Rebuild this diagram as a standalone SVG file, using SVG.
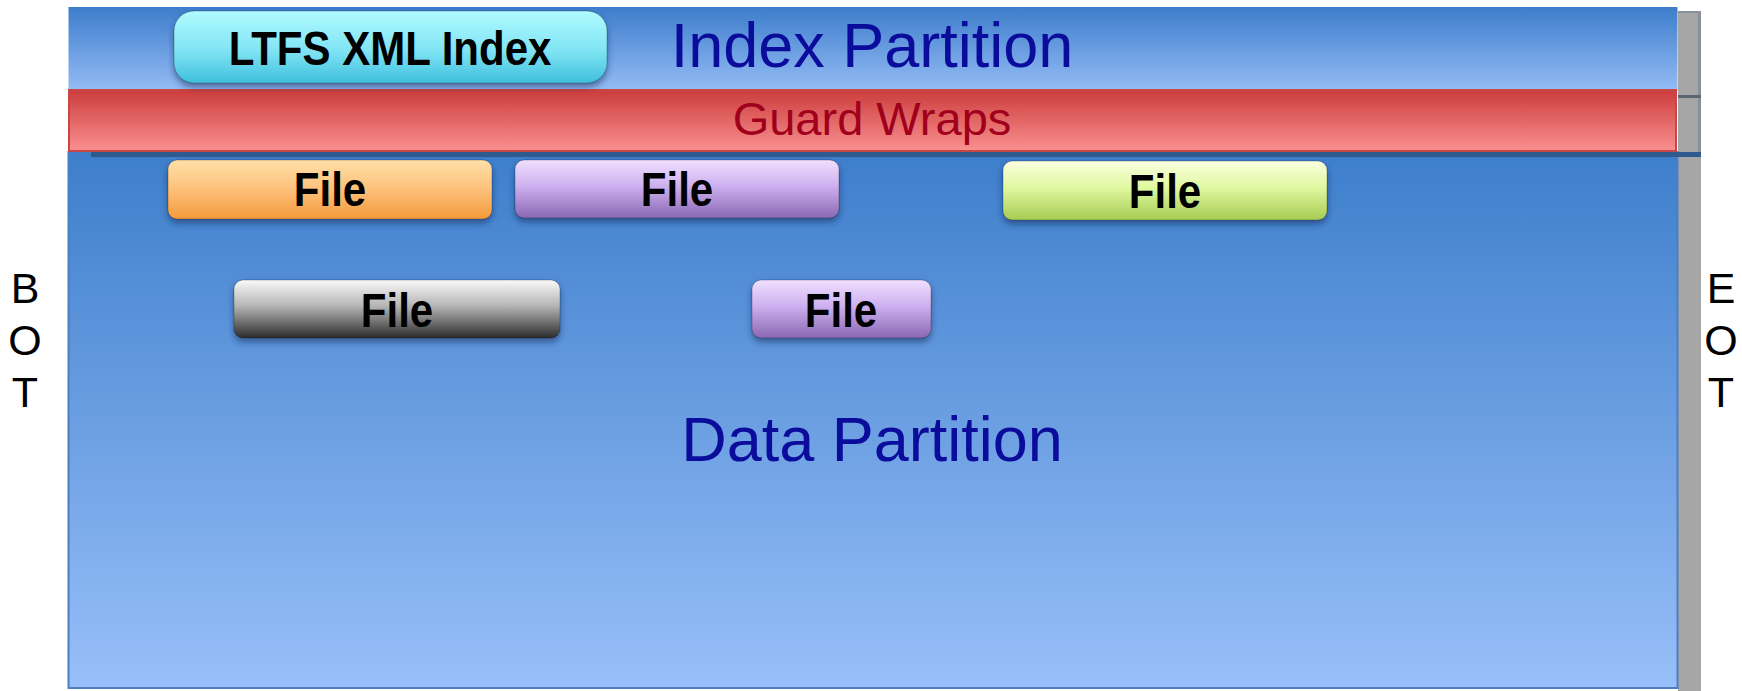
<svg xmlns="http://www.w3.org/2000/svg" width="1742" height="691" viewBox="0 0 1742 691">
  <defs>
    <linearGradient id="gIndex" x1="0" y1="0" x2="0" y2="1">
      <stop offset="0" stop-color="#3d7dcb"/>
      <stop offset="1" stop-color="#95bcf6"/>
    </linearGradient>
    <linearGradient id="gData" x1="0" y1="0" x2="0" y2="1">
      <stop offset="0" stop-color="#3d7ecb"/>
      <stop offset="1" stop-color="#98bff9"/>
    </linearGradient>
    <linearGradient id="gGuard" x1="0" y1="0" x2="0" y2="1">
      <stop offset="0" stop-color="#cc3c3c"/>
      <stop offset="1" stop-color="#fa9090"/>
    </linearGradient>
    <linearGradient id="gCyan" x1="0" y1="0" x2="0" y2="1">
      <stop offset="0" stop-color="#b0fbff"/>
      <stop offset="0.55" stop-color="#80e4f4"/>
      <stop offset="1" stop-color="#3fbfde"/>
    </linearGradient>
    <linearGradient id="gOrange" x1="0" y1="0" x2="0" y2="1">
      <stop offset="0" stop-color="#ffe0a8"/>
      <stop offset="0.5" stop-color="#fdc07a"/>
      <stop offset="1" stop-color="#f59a3c"/>
    </linearGradient>
    <linearGradient id="gPurple" x1="0" y1="0" x2="0" y2="1">
      <stop offset="0" stop-color="#f0e0ff"/>
      <stop offset="0.45" stop-color="#cdb0ef"/>
      <stop offset="1" stop-color="#8a68b4"/>
    </linearGradient>
    <linearGradient id="gGreen" x1="0" y1="0" x2="0" y2="1">
      <stop offset="0" stop-color="#fbffe0"/>
      <stop offset="0.45" stop-color="#e0f8a0"/>
      <stop offset="1" stop-color="#a6cc52"/>
    </linearGradient>
    <linearGradient id="gGray" x1="0" y1="0" x2="0" y2="1">
      <stop offset="0" stop-color="#fafafa"/>
      <stop offset="0.45" stop-color="#b4b4b4"/>
      <stop offset="1" stop-color="#2c2c2c"/>
    </linearGradient>
    <filter id="shadow" x="-10%" y="-30%" width="120%" height="170%">
      <feDropShadow dx="0" dy="4" stdDeviation="3" flood-color="#0a2a55" flood-opacity="0.55"/>
    </filter>
  </defs>
  <style>
    .part { font-family: "Liberation Sans", Arial, sans-serif; font-size: 63px; fill: #0c0c9c; text-anchor: middle; }
    .guard { font-family: "Liberation Sans", Arial, sans-serif; font-size: 47px; fill: #a0001c; text-anchor: middle; }
    .edge { font-family: "Liberation Sans", Arial, sans-serif; font-size: 43px; fill: #000000; text-anchor: middle; }
    .lbl { font-family: "Liberation Sans", Arial, sans-serif; font-weight: bold; font-size: 42px; fill: #000000; text-anchor: middle; }
    .box { stroke: rgba(0,0,0,0.25); stroke-width: 1; filter: url(#shadow); }
  </style>

  <rect width="1742" height="691" fill="#ffffff"/>

  <!-- tape body -->
  <g id="tape">
    <!-- gray end-of-tape strip -->
    <rect x="1678" y="11" width="23" height="680" fill="#a6a6a6"/>
    <rect x="1698" y="11" width="3" height="141" fill="#8a9099"/>
    <rect x="1678" y="11" width="23" height="2" fill="#8a9099"/>
    <rect x="1678" y="95" width="23" height="3" fill="#5c6670"/>
    <!-- data partition -->
    <rect id="data-partition" x="68.5" y="152" width="1609" height="536" fill="url(#gData)" stroke="#4d7fc0" stroke-width="2"/>
    <!-- index partition -->
    <rect id="index-partition" x="68.5" y="7" width="1609" height="84" fill="url(#gIndex)"/>
    <!-- guard wraps band -->
    <rect id="guard-wraps" x="69" y="90" width="1607" height="61" fill="url(#gGuard)" stroke="#c84646" stroke-width="2"/>
    <rect x="91" y="152" width="1610" height="5" fill="#2f5a8e"/>
  </g>

  <text class="part" x="872" y="67">Index Partition</text>
  <text class="guard" x="872" y="135">Guard Wraps</text>
  <text class="part" x="872" y="461">Data Partition</text>

  <g id="bot">
    <text class="edge" x="25" y="303">B</text>
    <text class="edge" x="25" y="355">O</text>
    <text class="edge" x="25" y="407">T</text>
  </g>
  <g id="eot">
    <text class="edge" x="1721" y="303">E</text>
    <text class="edge" x="1721" y="355">O</text>
    <text class="edge" x="1721" y="407">T</text>
  </g>

  <!-- box labels are drawn slightly tall: translate to the baseline, then stretch vertically -->
  <g id="ltfs-index">
    <rect class="box" x="174" y="11" width="433" height="72" rx="20" fill="url(#gCyan)"/>
    <text class="lbl" transform="translate(390 65) scale(1 1.16)">LTFS XML Index</text>
  </g>
  <g id="file-1">
    <rect class="box" x="168" y="160" width="324" height="59" rx="9" fill="url(#gOrange)"/>
    <text class="lbl" transform="translate(330 206) scale(1 1.16)">File</text>
  </g>
  <g id="file-2">
    <rect class="box" x="515" y="160" width="324" height="58" rx="9" fill="url(#gPurple)"/>
    <text class="lbl" transform="translate(677 206) scale(1 1.16)">File</text>
  </g>
  <g id="file-3">
    <rect class="box" x="1003" y="161" width="324" height="59" rx="9" fill="url(#gGreen)"/>
    <text class="lbl" transform="translate(1165 208) scale(1 1.16)">File</text>
  </g>
  <g id="file-4">
    <rect class="box" x="234" y="280" width="326" height="58" rx="9" fill="url(#gGray)"/>
    <text class="lbl" transform="translate(397 327) scale(1 1.16)">File</text>
  </g>
  <g id="file-5">
    <rect class="box" x="752" y="280" width="179" height="58" rx="9" fill="url(#gPurple)"/>
    <text class="lbl" transform="translate(841 327) scale(1 1.16)">File</text>
  </g>
</svg>
